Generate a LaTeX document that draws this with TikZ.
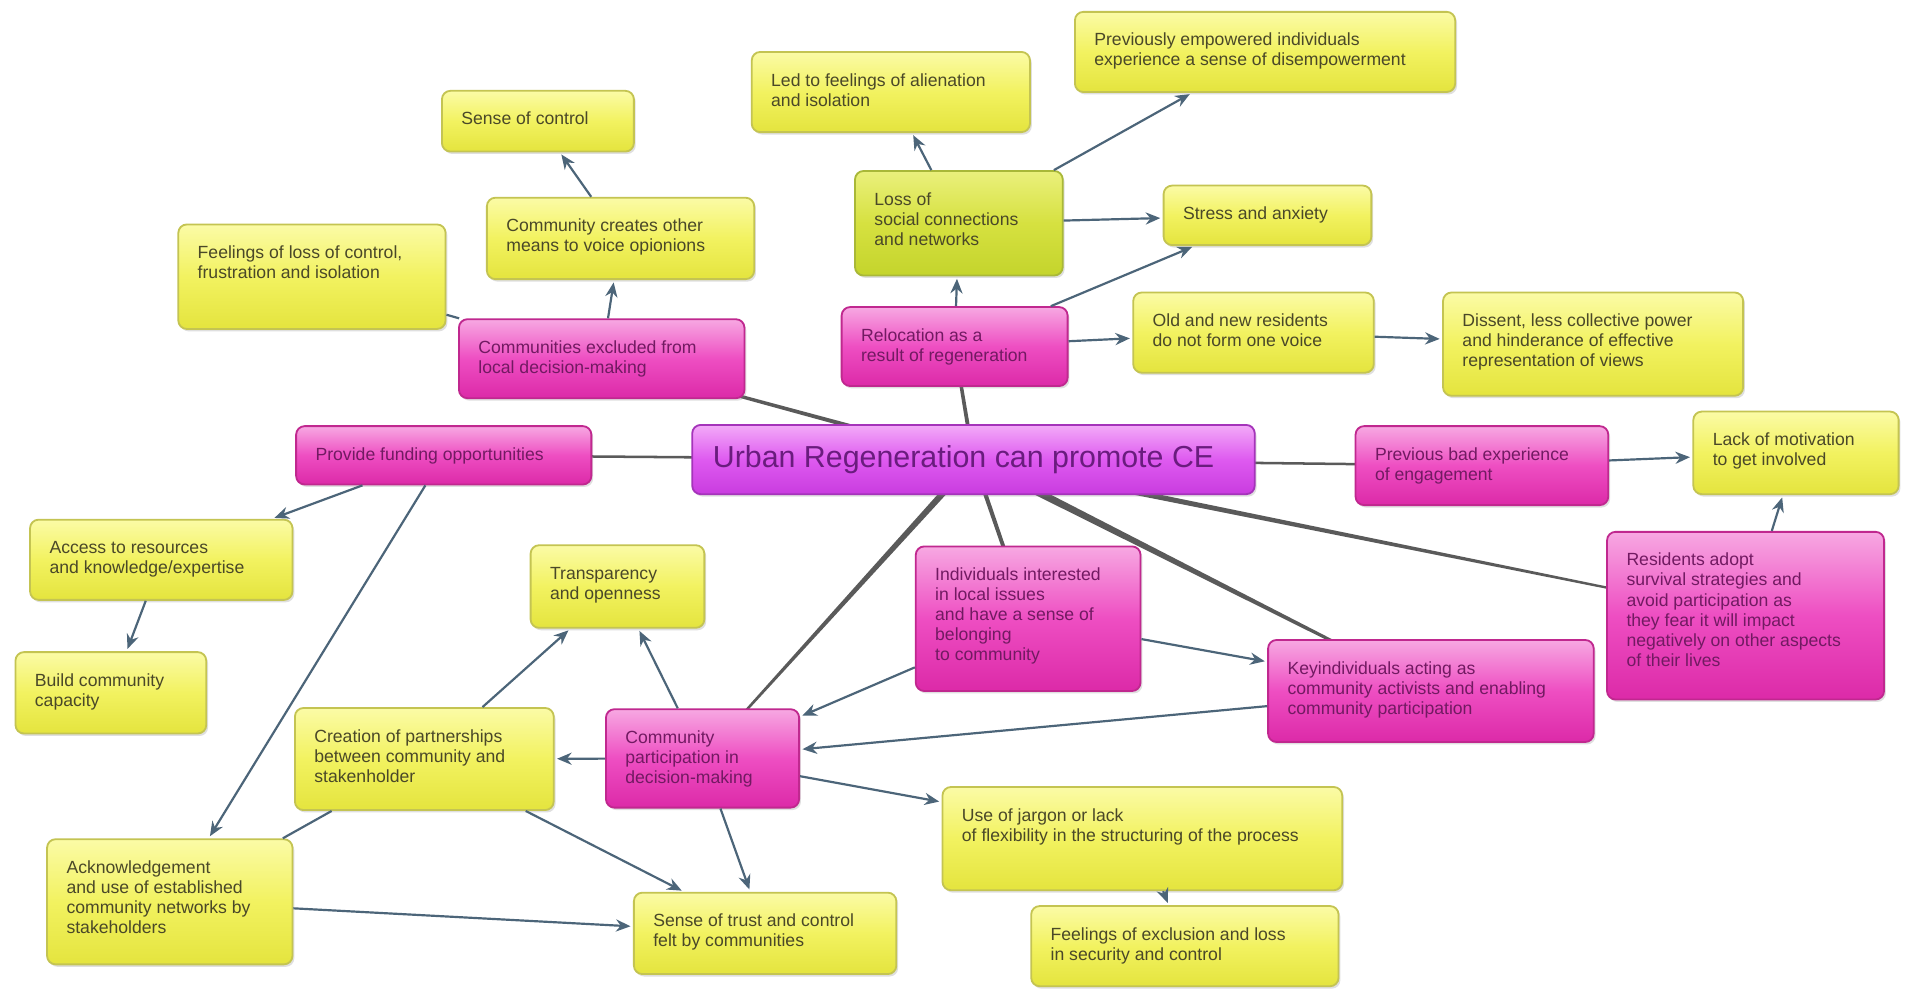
\documentclass[tikz,border=0pt]{standalone}
\usepackage{fontspec}
\setmainfont{Liberation Sans}
\usetikzlibrary{arrows.meta,shadows,calc}

\definecolor{yelTop}{HTML}{FBFBA6}
\definecolor{yelMid}{HTML}{F2F260}
\definecolor{yelBot}{HTML}{E4E43E}
\definecolor{yelLine}{HTML}{C4C452}
\definecolor{yelInk}{HTML}{4A4828}
\definecolor{limTop}{HTML}{EAF07C}
\definecolor{limMid}{HTML}{D6E140}
\definecolor{limBot}{HTML}{C4D42C}
\definecolor{limLine}{HTML}{A9B838}
\definecolor{pnkTop}{HTML}{F7A8E2}
\definecolor{pnkMid}{HTML}{EE4EC2}
\definecolor{pnkBot}{HTML}{DC2AA8}
\definecolor{pnkLine}{HTML}{C0288F}
\definecolor{pnkInk}{HTML}{721A62}
\definecolor{purTop}{HTML}{F3AAF8}
\definecolor{purMid}{HTML}{DE5AF0}
\definecolor{purBot}{HTML}{C93CDF}
\definecolor{purLine}{HTML}{A534BA}
\definecolor{purInk}{HTML}{6A1C7E}
\definecolor{arrowInk}{HTML}{4C6579}
\definecolor{hubInk}{HTML}{5A5A5A}

\pgfdeclarelayer{bg}
\pgfsetlayers{bg,main}

\tikzset{
  cbox/.style={rounded corners=7pt, line width=1.5pt, anchor=north west,
    inner sep=0pt, font=\fontsize{14.5}{16.5}\selectfont,
    drop shadow={shadow xshift=1.5pt, shadow yshift=-2pt, opacity=0.25}},
  ybox/.style={cbox, draw=yelLine, top color=yelTop, bottom color=yelBot,
    middle color=yelMid, text=yelInk},
  lbox/.style={cbox, draw=limLine, top color=limTop, bottom color=limBot,
    middle color=limMid, text=yelInk},
  pbox/.style={cbox, draw=pnkLine, top color=pnkTop, bottom color=pnkBot,
    middle color=pnkMid, text=pnkInk},
  hubbox/.style={cbox, draw=purLine, top color=purTop, bottom color=purBot,
    middle color=purMid, text=purInk, font=\fontsize{25}{28}\selectfont},
  link/.style={draw=arrowInk, line width=1.8pt},
  arr/.style={link, -{Stealth[length=12pt,width=10pt]}, shorten >=2pt},
  hubfill/.style={fill=hubInk},
}

% concept box: name, style, left, top, width, height, text
\newcommand\cmap[7]{%
  \node[#2, minimum width=#5pt, minimum height=#6pt] (#1) at (#3,#4)
    {\parbox[t][#6pt][t]{#5pt}{\raggedright\leftskip=16pt
      \vspace*{16.5pt}\strut #7}};}

% tapered link between two node centres
\newcommand\taper[4]{%
  \fill[hubfill] ($(#1)!#3!90:(#2)$) -- ($(#2)!#4!-90:(#1)$)
    -- ($(#2)!#4!90:(#1)$) -- ($(#1)!#3!-90:(#2)$) -- cycle;}

\begin{document}
\begin{tikzpicture}[x=1pt, y=-1pt]
\useasboundingbox (0,0) rectangle (1568,814);

% central concept
\node[hubbox, minimum width=463pt, minimum height=57pt] (ce) at (569,349)
  {\parbox[t][57pt][c]{463pt}{\hspace*{17pt}Urban Regeneration can promote CE}};

% upper left branch
\cmap{sensectrl}{ybox}{363}{74}{158}{50}{Sense of control}
\cmap{comcreate}{ybox}{400}{162}{220}{67}{Community creates other\\means to voice opionions}
\cmap{feelloss}{ybox}{146}{184}{220}{86}{Feelings of loss of control,\\frustration and isolation}
\cmap{excluded}{pbox}{377}{262}{235}{65}{Communities excluded from\\local decision-making}

% relocation branch
\cmap{led}{ybox}{618}{42}{229}{66}{Led to feelings of alienation\\and isolation}
\cmap{prevemp}{ybox}{884}{9}{313}{66}{Previously empowered individuals\\experience a sense of disempowerment}
\cmap{loss}{lbox}{703}{140}{171}{86}{Loss of\\social connections\\and networks}
\cmap{stress}{ybox}{957}{152}{171}{49}{Stress and anxiety}
\cmap{reloc}{pbox}{692}{252}{186}{65}{Relocation as a\\result of regeneration}
\cmap{oldnew}{ybox}{932}{240}{198}{66}{Old and new residents\\do not form one voice}
\cmap{dissent}{ybox}{1187}{240}{247}{85}{Dissent, less collective power\\and hinderance of effective\\representation of views}

% right branch
\cmap{prevbad}{pbox}{1115}{350}{208}{65}{Previous bad experience\\of engagement}
\cmap{lack}{ybox}{1393}{338}{169}{68}{Lack of motivation\\to get involved}
\cmap{residents}{pbox}{1322}{437}{228}{138}{Residents adopt\\survival strategies and\\avoid participation as\\they fear it will impact\\negatively on other aspects\\of their lives}

% funding branch
\cmap{funding}{pbox}{243}{350}{243}{48}{Provide funding opportunities}
\cmap{access}{ybox}{24}{427}{216}{66}{Access to resources\\and knowledge/expertise}
\cmap{build}{ybox}{12}{536}{157}{67}{Build community\\capacity}
\cmap{ack}{ybox}{38}{690}{202}{103}{Acknowledgement\\and use of established\\community networks by\\stakeholders}

% participation branch
\cmap{transp}{ybox}{436}{448}{143}{68}{Transparency\\and openness}
\cmap{indiv}{pbox}{753}{449}{185}{119}{Individuals interested\\in local issues\\and have a sense of\\belonging\\to community}
\cmap{key}{pbox}{1043}{526}{268}{84}{Keyindividuals acting as\\community activists and enabling\\community participation}
\cmap{creation}{ybox}{242}{582}{213}{84}{Creation of partnerships\\between community and\\stakenholder}
\cmap{cp}{pbox}{498}{583}{159}{81}{Community\\participation in\\decision-making}
\cmap{jargon}{ybox}{775}{647}{329}{85}{Use of jargon or lack\\of flexibility in the structuring of the process}
\cmap{trust}{ybox}{521}{734}{216}{67}{Sense of trust and control\\felt by communities}
\cmap{exclusion}{ybox}{848}{745}{253}{66}{Feelings of exclusion and loss\\in security and control}

% white ground and links from the central concept, tapering away from it
\begin{pgfonlayer}{bg}
\fill[white] (0,0) rectangle (1568,814);
\taper{ce}{funding}{1.1pt}{1pt}
\taper{ce}{excluded}{2pt}{1pt}
\taper{ce}{reloc}{1.7pt}{1.3pt}
\taper{ce}{prevbad}{1.1pt}{1pt}
\taper{ce}{cp}{2.8pt}{0.7pt}
\taper{ce}{indiv}{1.8pt}{1.4pt}
\taper{ce}{key}{3.4pt}{0.7pt}
\taper{ce}{residents}{2.6pt}{0.6pt}
\end{pgfonlayer}

% arrows between concepts
\draw[arr] (comcreate) -- (sensectrl);
\draw[arr] (excluded) -- (comcreate);
\draw[link] (feelloss) -- (excluded);
\draw[arr] (loss) -- (led);
\draw[arr] (loss) -- (prevemp);
\draw[arr] (loss) -- (stress);
\draw[arr] (reloc) -- (loss);
\draw[arr] (reloc) -- (stress);
\draw[arr] (reloc) -- (oldnew);
\draw[arr] (oldnew) -- (dissent);
\draw[arr] (prevbad) -- (lack);
\draw[arr] (residents) -- (lack);
\draw[arr] (funding) -- (access);
\draw[arr] (access) -- (build);
\draw[arr] (funding) -- (ack);
\draw[arr] (indiv) -- (cp);
\draw[arr] (indiv) -- (key);
\draw[arr] (key) -- (cp);
\draw[arr] (cp) -- (transp);
\draw[arr] (cp) -- (creation);
\draw[arr] (creation) -- (transp);
\draw[arr] (cp) -- (jargon);
\draw[arr] (cp) -- (trust);
\draw[arr] (creation) -- (trust);
\draw[link] (creation) -- (ack);
\draw[arr] (ack) -- (trust);
\draw[arr] (jargon) -- (exclusion);
\end{tikzpicture}
\end{document}
